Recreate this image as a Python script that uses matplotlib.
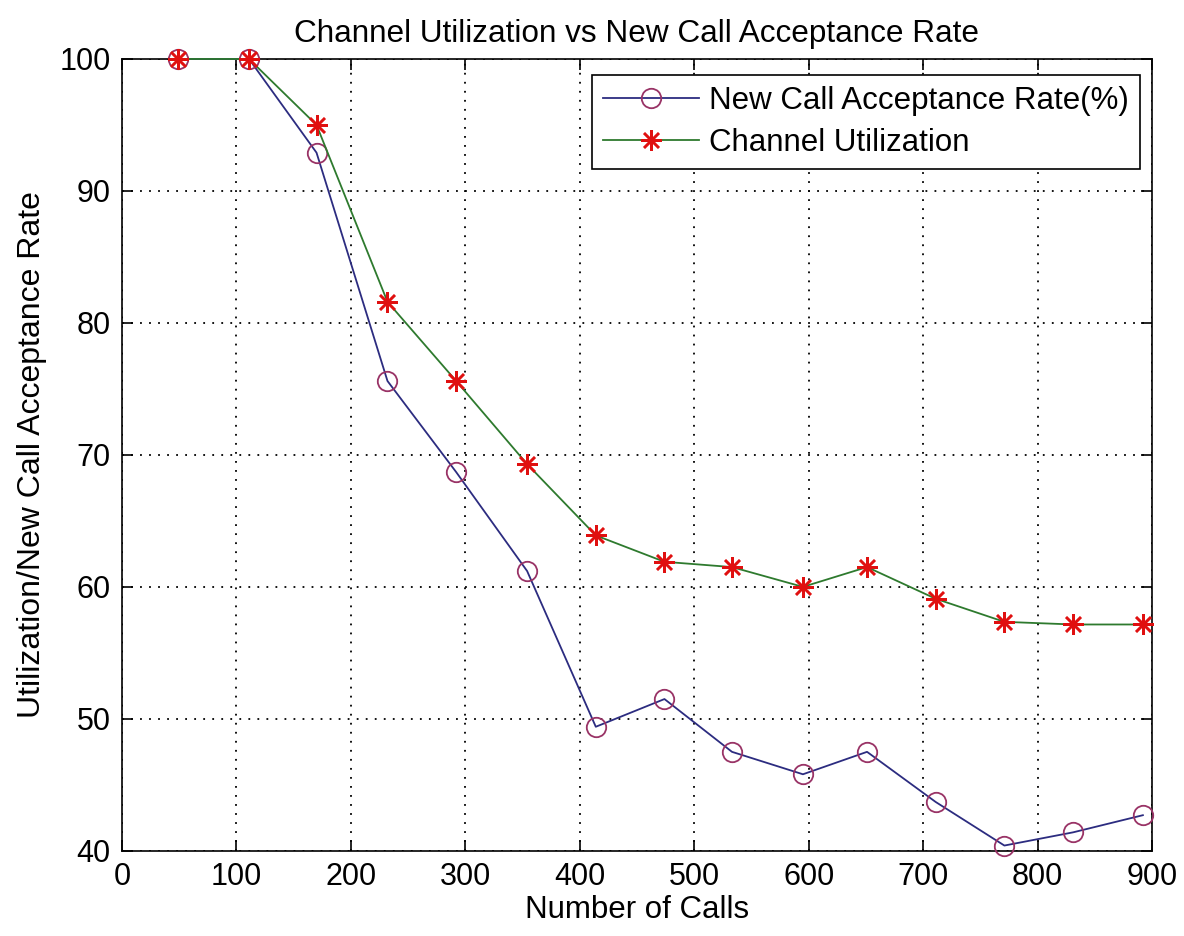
import matplotlib
matplotlib.use("Agg")
import matplotlib.pyplot as plt

# values
calls = [49, 111, 170, 232, 292, 354, 414, 474, 533, 595, 651, 711, 771, 831, 892]
acceptance = [100, 100, 92.9, 75.6, 68.7, 61.2, 49.4, 51.5, 47.5, 45.8, 47.5, 43.7, 40.4, 41.4, 42.7]
utilization = [100, 100, 95.0, 81.6, 75.6, 69.3, 63.9, 61.9, 61.5, 60.0, 61.5, 59.1, 57.35, 57.15, 57.15]

xticks = [0, 100, 200, 300, 400, 500, 600, 700, 800, 900]
yticks = [40, 50, 60, 70, 80, 90, 100]

plt.rcParams['font.family'] = ['Liberation Sans', 'DejaVu Sans']

fig = plt.figure(figsize=(11.84, 9.36), dpi=100)
ax = fig.add_axes([0.103, 0.091, 0.870, 0.846])

ax.plot(calls, acceptance, '-o', color='#2c2c80', lw=1.3, ms=14, mfc='none',
        mec='#993366', mew=1.3, label='New Call Acceptance Rate(%)', clip_on=False, zorder=3)
# matlab style asterisk marker
ax.plot(calls, utilization, '-', marker=(8, 2, 0), color='#2e7a2e', lw=1.3, ms=15,
        mfc='#e01010', mec='#e01010', mew=1.8, label='Channel Utilization', clip_on=False, zorder=4)

ax.set_xlim(0, 900)
ax.set_ylim(40, 100)
ax.set_xticks(xticks)
ax.set_yticks(yticks)
ax.tick_params(direction='in', length=8, width=1.2, top=True, right=True,
               labelsize=22, pad=8)
ax.grid(True, linestyle=(0, (1, 4)), color='black', lw=1.3)
for s in ax.spines.values():
    s.set_linewidth(1.2)

ax.set_title('Channel Utilization vs New Call Acceptance Rate', fontsize=22.7, pad=12)
ax.set_xlabel('Number of Calls', fontsize=22.5, labelpad=2)
ax.set_ylabel('Utilization/New Call Acceptance Rate', fontsize=23, labelpad=9)

leg = ax.legend(loc='upper right', fontsize=22.5, fancybox=False, framealpha=1,
                edgecolor='black', borderpad=0.35, handlelength=3.1, handletextpad=0.3,
                labelspacing=0.38, borderaxespad=0, bbox_to_anchor=(0.988, 0.98))
leg.get_frame().set_linewidth(1.2)

fig.savefig('out.png', dpi=100, facecolor='white')
